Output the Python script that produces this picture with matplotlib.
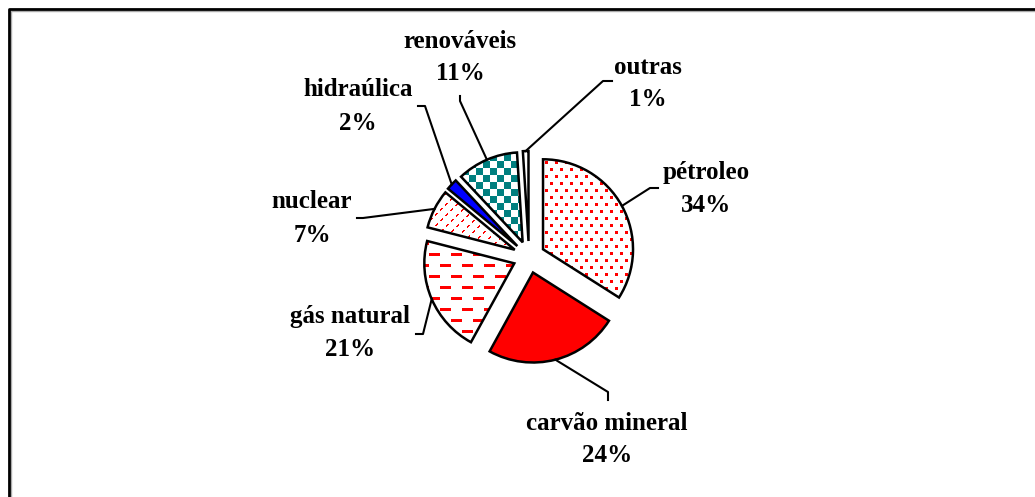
import numpy as np
import matplotlib.pyplot as plt
from matplotlib.patches import Wedge
from matplotlib.lines import Line2D

W, H = 1035, 497

# data
labels = ['pétroleo', 'carvão mineral', 'gás natural', 'nuclear', 'hidraúlica', 'renováveis', 'outras']
shares = [34, 24, 21, 7, 2, 11, 1]

# style / layout (pixel coords, y from top)
fills = ['dots', '#ff0000', 'dashes', 'diag', '#0000ff', 'checker', 'white']
label_pos = [(706, 173), (607, 423), (350, 317), (312, 202), (358, 90), (460, 41), (648, 67)]
leader_pts = [[(650, 188), (658, 188)], [(608, 392), (608, 400)], [(423, 334), (416, 334)],
              [(363, 218), (357, 218)], [(425, 106), (418, 106)], [(460, 101), (460, 96)],
              [(603, 81), (612, 81)]]
line_gap = 33
center = (529, H - 257)
radius = 90
explode_px = 16  # pie adds explode in data units

plt.rcParams['font.family'] = 'Liberation Serif'

fig = plt.figure(figsize=(W / 100, H / 100), dpi=100)
ax = fig.add_axes([0, 0, 1, 1])

wedges, _ = ax.pie(shares, startangle=90, counterclock=False, explode=[explode_px] * len(shares),
                   center=center, radius=radius,
                   colors=[f if f.startswith('#') or f == 'white' else 'white' for f in fills],
                   wedgeprops=dict(edgecolor='none', linewidth=0))

# fill patterns built in pixel space
yy, xx = np.mgrid[0:H, 0:W]


def pattern(mask, rgb):
    img = np.zeros((H, W, 4))
    img[..., :3] = rgb
    img[..., 3] = mask.astype(float)
    return img


red = (1.0, 0.0, 0.0)
teal = (0.0, 0.5, 0.5)
masks = {
    'dots': (((xx + 5 * ((yy // 7) % 2)) % 10) < 3) & ((yy % 7) < 3),
    'dashes': (((xx + 11 * ((yy // 11) % 2)) % 22) < 11) & ((yy % 11) < 3),
    'diag': (((xx + yy) % 11) < 2) & (((xx - yy) % 10) < 5),
    'checker': ((xx // 7 + yy // 7) % 2 == 0),
}
colors_pat = {'dots': red, 'dashes': red, 'diag': red, 'checker': teal}

for w, f in zip(wedges, fills):
    if f in masks:
        im = ax.imshow(pattern(masks[f], colors_pat[f]), extent=(0, W, 0, H), origin='upper',
                       interpolation='nearest', zorder=2)
        im.set_clip_path(w)
    # outline on top
    ax.add_patch(Wedge(w.center, w.r, w.theta1, w.theta2, fill=False, edgecolor='black',
                       linewidth=1.8, zorder=3))

# labels with leader lines
for w, name, val, (tx, ty), pts in zip(wedges, labels, shares, label_pos, leader_pts):
    mid = np.deg2rad((w.theta1 + w.theta2) / 2)
    ex = w.center[0] + w.r * np.cos(mid)
    ey = w.center[1] + w.r * np.sin(mid)
    xs = [ex] + [p[0] for p in pts]
    ys = [ey] + [H - p[1] for p in pts]
    ax.plot(xs, ys, color='black', lw=1.5, zorder=4)
    ax.text(tx, H - ty, name, ha='center', va='center', fontsize=18, fontweight='bold')
    ax.text(tx, H - ty - line_gap, f'{val}%', ha='center', va='center', fontsize=18, fontweight='bold')

ax.set_xlim(0, W)
ax.set_ylim(0, H)
ax.set_aspect('equal')
ax.axis('off')

# chart border (runs past right and bottom edges)
fig.add_artist(Line2D([11 / W, 11 / W, 1.01], [-0.01, 1 - 11 / H, 1 - 11 / H],
                      transform=fig.transFigure, color='#aaaaaa', lw=1))
fig.add_artist(Line2D([9 / W, 9 / W, 1.01], [-0.01, 1 - 9 / H, 1 - 9 / H],
                      transform=fig.transFigure, color='black', lw=2))

fig.savefig('out.png', dpi=100)
